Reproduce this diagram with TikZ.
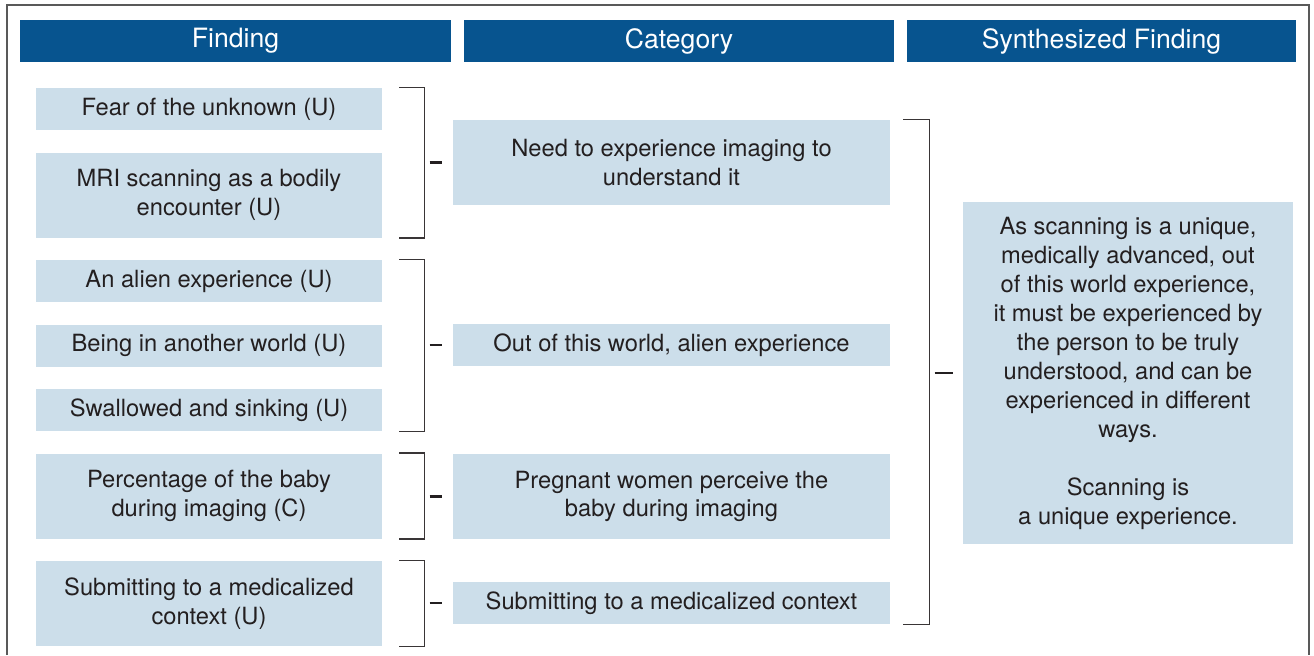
\documentclass[tikz,border=0pt]{standalone}
\usepackage{fontspec}
\setmainfont{TeX Gyre Heros}
\usetikzlibrary{positioning}
\definecolor{headblue}{RGB}{7,84,143}
\definecolor{boxblue}{RGB}{204,222,234}
\definecolor{inkgray}{RGB}{35,31,32}

\begin{document}
\begin{tikzpicture}[x=1pt,y=1pt,node distance=10.85pt,
    head node/.style={rectangle,fill=headblue,text=white,minimum height=21pt,inner sep=0pt,font=\fontsize{13.3}{16}\selectfont},
    main node/.style={rectangle,fill=boxblue,text=inkgray,align=center,inner sep=0pt,minimum height=21pt,font=\fontsize{11.85}{14.3}\selectfont},
    find node/.style={main node,minimum width=173pt},
    cat node/.style={main node,minimum width=218.5pt},
    tall node/.style={minimum height=42.5pt},
    bracket line/.style={draw=inkgray!90,line width=0.75pt},
    tick line/.style={draw=inkgray,line width=1.1pt}]

  \useasboundingbox (0,0) rectangle (657,-327.5);
  \draw[gray!70!black,line width=0.7pt] (3.5,-327.5) |- (654.5,-2.5) -- (654.5,-327.5);

  % column heads
  \node[head node,minimum width=215.5pt] (h1) at (117.75,-20.5) {Finding};
  \node[head node,minimum width=215pt] (h2) at (339.5,-20.5) {Category};
  \node[head node,minimum width=194.5pt] (h3) at (550.75,-20.5) {Synthesized Finding};

  % findings
  \node[find node] (f1) at (104.5,-54.5) {Fear of the unknown (U)};
  \node[find node,tall node] (f2) [below=of f1] {MRI scanning as a bodily\\encounter (U)};
  \node[find node] (f3) [below=of f2] {An alien experience (U)};
  \node[find node] (f4) [below=of f3] {Being in another world (U)};
  \node[find node] (f5) [below=of f4] {Swallowed and sinking (U)};
  \node[find node,tall node] (f6) [below=of f5] {Percentage of the baby\\during imaging (C)};
  \node[find node,tall node] (f7) [below=of f6] {Submitting to a medicalized\\context (U)};

  % categories
  \node[cat node,tall node] (c1) at (335.75,-81.25) {Need to experience imaging to\\understand it};
  \node[cat node] (c2) at (335.75,-172.5) {Out of this world, alien experience};
  \node[cat node,tall node] (c3) at (335.75,-248.25) {Pregnant women perceive the\\baby during imaging};
  \node[cat node] (c4) at (335.75,-301.5) {Submitting to a medicalized context};

  % synthesized finding
  \node[main node,minimum width=165pt,minimum height=171pt,font=\fontsize{11.85}{14.5}\selectfont] (s) at (564,-186.5)
    {As scanning is a unique,\\medically advanced, out\\of this world experience,\\it must be experienced by\\the person to be truly\\understood, and can be\\experienced in different\\ways.\\[14.5pt]Scanning is\\a unique experience.};

  % brackets
  \draw[bracket line] ([xshift=8.5pt]f1.north east) -- ([xshift=21pt]f1.north east) -- ([xshift=21pt]f2.south east) -- ([xshift=8.5pt]f2.south east);
  \draw[bracket line] ([xshift=8.5pt]f3.north east) -- ([xshift=21pt]f3.north east) -- ([xshift=21pt]f5.south east) -- ([xshift=8.5pt]f5.south east);
  \draw[bracket line] ([xshift=8.5pt]f6.north east) -- ([xshift=21pt]f6.north east) -- ([xshift=21pt]f6.south east) -- ([xshift=8.5pt]f6.south east);
  \draw[bracket line] ([xshift=8.5pt]f7.north east) -- ([xshift=21pt]f7.north east) -- ([xshift=21pt]f7.south east) -- ([xshift=8.5pt]f7.south east);
  \draw[bracket line] ([xshift=6.5pt]c1.north east) -- ([xshift=19.5pt]c1.north east) -- ([xshift=19.5pt]c4.south east) -- ([xshift=6.5pt]c4.south east);

  % ticks
  \draw[tick line] ([xshift=-11.5pt]c1.west) -- ([xshift=-5.5pt]c1.west);
  \draw[tick line] ([xshift=-11.5pt]c2.west) -- ([xshift=-5.5pt]c2.west);
  \draw[tick line] ([xshift=-11.5pt]c3.west) -- ([xshift=-5.5pt]c3.west);
  \draw[tick line] ([xshift=-11.5pt]c4.west) -- ([xshift=-5.5pt]c4.west);
  \draw[tick line] ([xshift=-14pt]s.west) -- ([xshift=-5pt]s.west);

\end{tikzpicture}
\end{document}
